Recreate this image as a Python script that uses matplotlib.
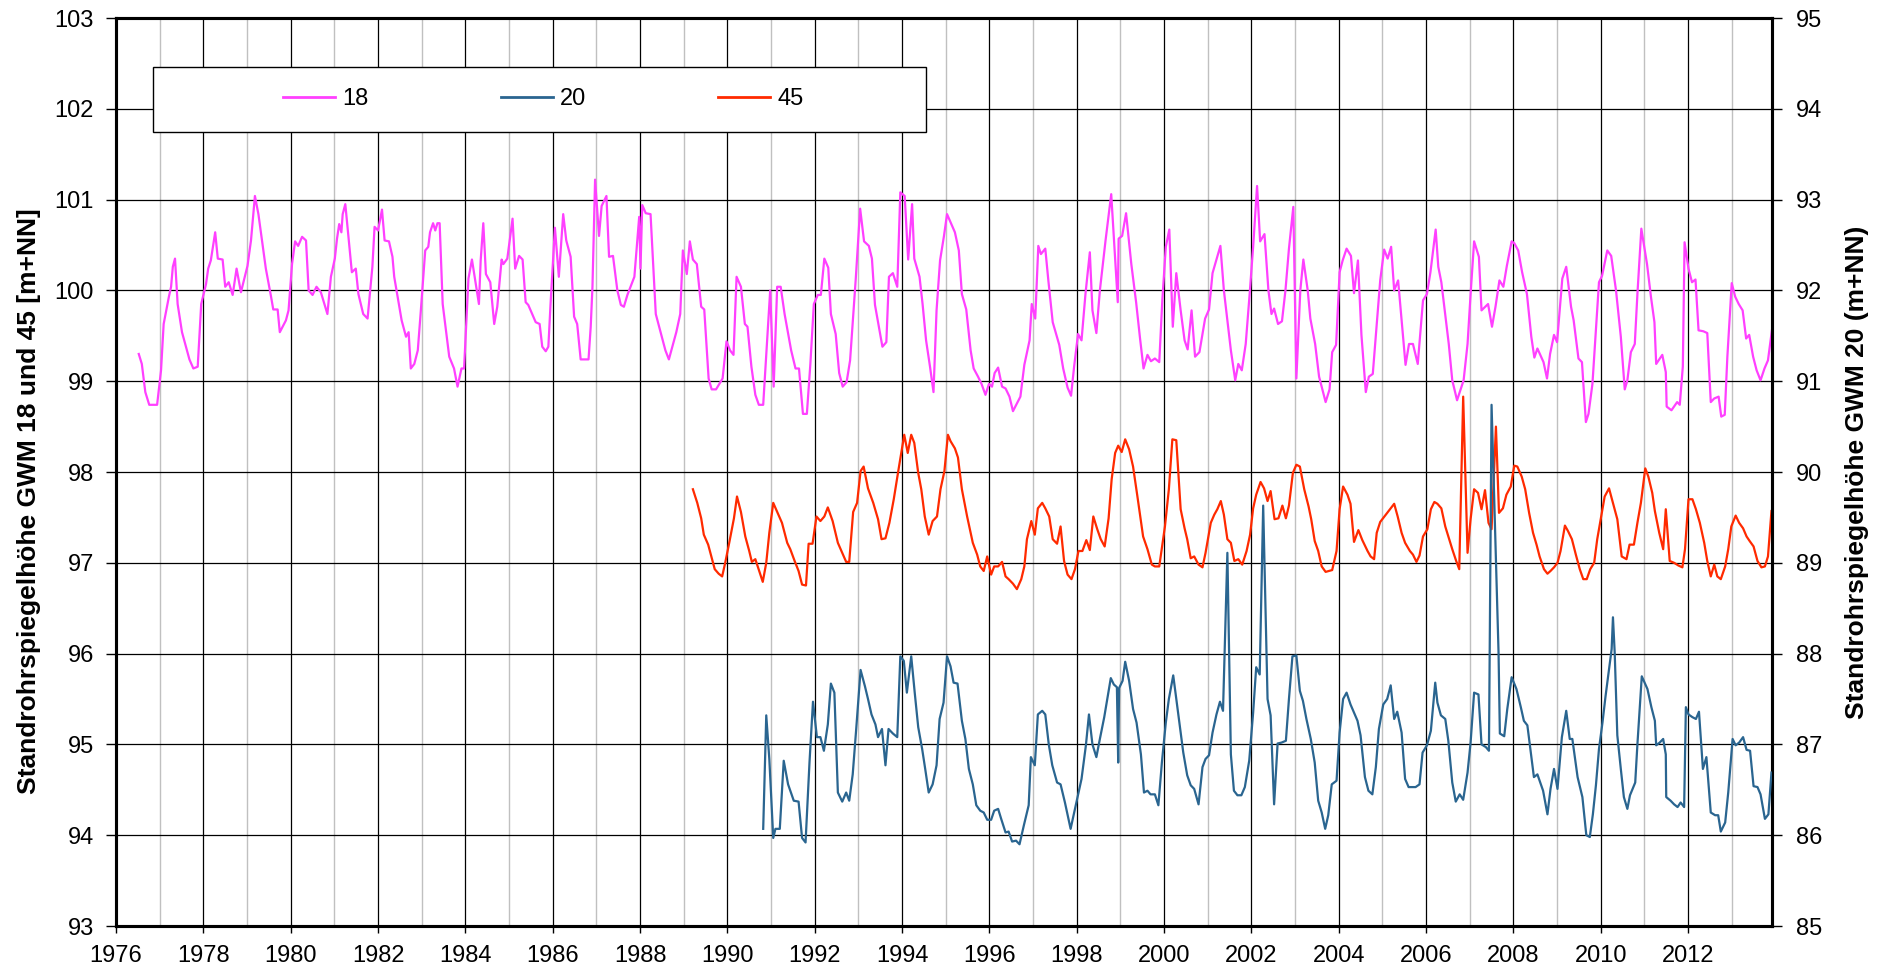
import numpy as np
import matplotlib
matplotlib.use("Agg")
import matplotlib.pyplot as plt
from matplotlib.lines import Line2D
from matplotlib.patches import Rectangle

plt.rcParams['font.family'] = ['Liberation Sans', 'DejaVu Sans']

# ================= data (decimal year, m+NN) =================
# GWM 18 (left axis)
gwm18_year = [
    1976.52, 1976.59, 1976.67, 1976.76, 1976.94, 1977.03, 1977.09, 1977.21, 1977.26, 1977.30,
    1977.35, 1977.41, 1977.51, 1977.68, 1977.77, 1977.87, 1977.95, 1978.06, 1978.11, 1978.17,
    1978.27, 1978.33, 1978.44, 1978.50, 1978.58, 1978.67, 1978.76, 1978.86, 1979.01, 1979.09,
    1979.18, 1979.26, 1979.43, 1979.55, 1979.60, 1979.70, 1979.75, 1979.89, 1979.95, 1980.03,
    1980.10, 1980.17, 1980.26, 1980.35, 1980.41, 1980.50, 1980.59, 1980.69, 1980.84, 1980.92,
    1981.01, 1981.06, 1981.11, 1981.16, 1981.19, 1981.25, 1981.32, 1981.40, 1981.49, 1981.55,
    1981.66, 1981.76, 1981.87, 1981.92, 1982.00, 1982.09, 1982.15, 1982.25, 1982.33, 1982.37,
    1982.47, 1982.54, 1982.64, 1982.70, 1982.75, 1982.83, 1982.91, 1982.98, 1983.08, 1983.15,
    1983.19, 1983.26, 1983.31, 1983.36, 1983.41, 1983.48, 1983.63, 1983.74, 1983.82, 1983.91,
    1983.97, 1984.07, 1984.15, 1984.31, 1984.35, 1984.41, 1984.47, 1984.57, 1984.66, 1984.73,
    1984.83, 1984.87, 1984.96, 1985.08, 1985.14, 1985.23, 1985.31, 1985.38, 1985.44, 1985.61,
    1985.70, 1985.76, 1985.84, 1985.90, 1985.95, 1986.05, 1986.14, 1986.24, 1986.31, 1986.41,
    1986.49, 1986.56, 1986.64, 1986.82, 1986.87, 1986.91, 1986.97, 1987.06, 1987.12, 1987.23,
    1987.29, 1987.38, 1987.48, 1987.56, 1987.63, 1987.71, 1987.87, 1987.98, 1988.01, 1988.05,
    1988.13, 1988.24, 1988.36, 1988.58, 1988.66, 1988.83, 1988.92, 1988.98, 1989.07, 1989.14,
    1989.21, 1989.30, 1989.40, 1989.47, 1989.57, 1989.64, 1989.74, 1989.89, 1989.98, 1990.06,
    1990.14, 1990.21, 1990.31, 1990.40, 1990.46, 1990.55, 1990.64, 1990.72, 1990.82, 1990.98,
    1991.06, 1991.14, 1991.22, 1991.31, 1991.46, 1991.56, 1991.64, 1991.73, 1991.82, 1991.90,
    1991.98, 1992.07, 1992.14, 1992.22, 1992.31, 1992.37, 1992.48, 1992.56, 1992.64, 1992.73,
    1992.81, 1992.94, 1993.04, 1993.13, 1993.24, 1993.31, 1993.38, 1993.47, 1993.55, 1993.64,
    1993.70, 1993.79, 1993.89, 1993.96, 1994.06, 1994.14, 1994.23, 1994.28, 1994.40, 1994.47,
    1994.55, 1994.64, 1994.72, 1994.79, 1994.87, 1994.96, 1995.03, 1995.21, 1995.30, 1995.37,
    1995.47, 1995.57, 1995.64, 1995.74, 1995.82, 1995.91, 1995.99, 1996.06, 1996.12, 1996.20,
    1996.29, 1996.37, 1996.46, 1996.54, 1996.71, 1996.80, 1996.92, 1996.97, 1997.05, 1997.12,
    1997.18, 1997.28, 1997.35, 1997.45, 1997.60, 1997.69, 1997.79, 1997.87, 1997.94, 1998.03,
    1998.11, 1998.20, 1998.30, 1998.36, 1998.45, 1998.53, 1998.66, 1998.79, 1998.94, 1998.96,
    1999.04, 1999.13, 1999.25, 1999.36, 1999.45, 1999.53, 1999.62, 1999.70, 1999.79, 1999.89,
    1999.96, 2000.04, 2000.12, 2000.20, 2000.28, 2000.38, 2000.47, 2000.54, 2000.63, 2000.71,
    2000.81, 2000.94, 2001.03, 2001.11, 2001.29, 2001.37, 2001.53, 2001.63, 2001.70, 2001.78,
    2001.87, 2001.96, 2002.04, 2002.13, 2002.20, 2002.30, 2002.39, 2002.46, 2002.52, 2002.61,
    2002.70, 2002.78, 2002.86, 2002.96, 2003.03, 2003.12, 2003.19, 2003.29, 2003.35, 2003.46,
    2003.55, 2003.70, 2003.79, 2003.85, 2003.94, 2004.02, 2004.09, 2004.18, 2004.28, 2004.35,
    2004.44, 2004.52, 2004.62, 2004.69, 2004.78, 2004.87, 2004.95, 2005.04, 2005.12, 2005.20,
    2005.27, 2005.36, 2005.53, 2005.61, 2005.70, 2005.81, 2005.93, 2006.02, 2006.10, 2006.22,
    2006.28, 2006.35, 2006.52, 2006.60, 2006.71, 2006.86, 2006.95, 2007.02, 2007.10, 2007.21,
    2007.27, 2007.42, 2007.51, 2007.59, 2007.68, 2007.77, 2007.85, 2007.96, 2008.02, 2008.11,
    2008.20, 2008.31, 2008.41, 2008.48, 2008.55, 2008.69, 2008.77, 2008.84, 2008.93, 2009.00,
    2009.12, 2009.21, 2009.32, 2009.38, 2009.49, 2009.57, 2009.66, 2009.72, 2009.81, 2009.96,
    2010.03, 2010.15, 2010.24, 2010.35, 2010.46, 2010.55, 2010.61, 2010.69, 2010.78, 2010.84,
    2010.93, 2011.06, 2011.15, 2011.23, 2011.27, 2011.41, 2011.49, 2011.51, 2011.62, 2011.75,
    2011.81, 2011.88, 2011.92, 2012.01, 2012.09, 2012.17, 2012.24, 2012.35, 2012.44, 2012.52,
    2012.60, 2012.70, 2012.76, 2012.84, 2012.90, 2013.00, 2013.08, 2013.16, 2013.25, 2013.33,
    2013.40, 2013.49, 2013.57, 2013.66, 2013.75, 2013.83, 2013.92,
]
gwm18_val = [
    99.30, 99.19, 98.88, 98.74, 98.74, 99.12, 99.63, 99.93, 100.04, 100.26,
    100.35, 99.85, 99.54, 99.24, 99.14, 99.16, 99.85, 100.07, 100.24, 100.33,
    100.64, 100.35, 100.34, 100.04, 100.09, 99.95, 100.24, 99.98, 100.27, 100.55,
    101.04, 100.84, 100.24, 99.93, 99.79, 99.79, 99.54, 99.67, 99.78, 100.29,
    100.54, 100.49, 100.59, 100.55, 100.00, 99.95, 100.04, 99.98, 99.74, 100.15,
    100.35, 100.57, 100.73, 100.64, 100.84, 100.95, 100.60, 100.20, 100.24, 99.96,
    99.74, 99.69, 100.26, 100.70, 100.66, 100.89, 100.55, 100.54, 100.37, 100.15,
    99.87, 99.67, 99.49, 99.54, 99.14, 99.19, 99.34, 99.78, 100.44, 100.48,
    100.64, 100.74, 100.66, 100.74, 100.74, 99.85, 99.27, 99.14, 98.94, 99.14,
    99.14, 100.13, 100.34, 99.85, 100.33, 100.74, 100.18, 100.09, 99.63, 99.82,
    100.34, 100.29, 100.35, 100.79, 100.24, 100.38, 100.34, 99.87, 99.84, 99.65,
    99.63, 99.38, 99.33, 99.38, 99.85, 100.69, 100.15, 100.84, 100.55, 100.37,
    99.71, 99.63, 99.24, 99.24, 99.60, 100.04, 101.22, 100.60, 100.93, 101.04,
    100.37, 100.38, 100.00, 99.84, 99.82, 99.95, 100.15, 100.81, 100.24, 100.94,
    100.85, 100.84, 99.74, 99.34, 99.24, 99.54, 99.74, 100.44, 100.18, 100.54,
    100.34, 100.29, 99.82, 99.79, 99.03, 98.91, 98.91, 99.03, 99.44, 99.34,
    99.29, 100.15, 100.04, 99.63, 99.60, 99.16, 98.85, 98.74, 98.74, 100.00,
    98.94, 100.04, 100.04, 99.74, 99.34, 99.14, 99.14, 98.64, 98.64, 99.19,
    99.85, 99.95, 99.95, 100.35, 100.25, 99.74, 99.52, 99.09, 98.94, 98.99,
    99.23, 100.13, 100.90, 100.54, 100.49, 100.35, 99.84, 99.60, 99.38, 99.43,
    100.15, 100.19, 100.04, 101.08, 101.04, 100.34, 100.95, 100.35, 100.15, 99.85,
    99.45, 99.16, 98.88, 99.78, 100.33, 100.60, 100.84, 100.64, 100.44, 99.96,
    99.79, 99.34, 99.14, 99.05, 98.97, 98.85, 98.97, 98.94, 99.09, 99.15,
    98.94, 98.92, 98.83, 98.67, 98.83, 99.18, 99.45, 99.85, 99.69, 100.49,
    100.40, 100.46, 100.11, 99.65, 99.40, 99.14, 98.93, 98.84, 99.16, 99.52,
    99.45, 99.96, 100.42, 99.78, 99.53, 100.00, 100.55, 101.06, 99.87, 100.57,
    100.60, 100.85, 100.29, 99.87, 99.47, 99.14, 99.29, 99.22, 99.25, 99.21,
    99.89, 100.48, 100.67, 99.60, 100.19, 99.78, 99.45, 99.35, 99.78, 99.27,
    99.32, 99.69, 99.79, 100.19, 100.49, 100.00, 99.34, 99.01, 99.19, 99.12,
    99.41, 99.96, 100.48, 101.15, 100.54, 100.62, 100.00, 99.74, 99.80, 99.63,
    99.66, 100.00, 100.46, 100.92, 99.03, 100.00, 100.34, 100.00, 99.69, 99.41,
    99.05, 98.77, 98.91, 99.32, 99.40, 100.20, 100.33, 100.46, 100.38, 99.97,
    100.33, 99.51, 98.88, 99.05, 99.08, 99.63, 100.11, 100.45, 100.35, 100.48,
    100.00, 100.11, 99.18, 99.41, 99.41, 99.19, 99.89, 99.96, 100.20, 100.67,
    100.26, 100.09, 99.41, 99.01, 98.79, 99.01, 99.41, 99.96, 100.54, 100.37,
    99.78, 99.85, 99.60, 99.82, 100.11, 100.04, 100.27, 100.54, 100.52, 100.44,
    100.20, 99.96, 99.49, 99.26, 99.36, 99.21, 99.03, 99.30, 99.51, 99.43,
    100.13, 100.26, 99.82, 99.67, 99.25, 99.21, 98.55, 98.64, 98.97, 100.09,
    100.16, 100.44, 100.38, 100.00, 99.49, 98.91, 99.01, 99.32, 99.41, 99.96,
    100.68, 100.29, 99.93, 99.65, 99.19, 99.29, 99.10, 98.72, 98.68, 98.77,
    98.74, 99.16, 100.53, 100.24, 100.09, 100.12, 99.56, 99.55, 99.53, 98.77,
    98.81, 98.83, 98.61, 98.63, 99.27, 100.08, 99.93, 99.85, 99.78, 99.47,
    99.51, 99.27, 99.12, 99.01, 99.14, 99.23, 99.56,
]

# GWM 45 (left axis)
gwm45_year = [
    1989.21, 1989.31, 1989.40, 1989.46, 1989.56, 1989.71, 1989.80, 1989.88, 1989.95, 1990.05,
    1990.15, 1990.22, 1990.31, 1990.41, 1990.50, 1990.56, 1990.64, 1990.81, 1990.89, 1990.96,
    1991.05, 1991.15, 1991.25, 1991.37, 1991.44, 1991.54, 1991.63, 1991.71, 1991.80, 1991.86,
    1991.95, 1992.04, 1992.13, 1992.22, 1992.30, 1992.41, 1992.53, 1992.63, 1992.72, 1992.79,
    1992.88, 1992.97, 1993.05, 1993.12, 1993.22, 1993.34, 1993.45, 1993.53, 1993.62, 1993.71,
    1993.81, 1993.92, 1994.05, 1994.13, 1994.21, 1994.28, 1994.37, 1994.44, 1994.52, 1994.61,
    1994.70, 1994.80, 1994.88, 1994.97, 1995.05, 1995.11, 1995.21, 1995.28, 1995.37, 1995.49,
    1995.62, 1995.72, 1995.79, 1995.87, 1995.95, 1996.04, 1996.11, 1996.20, 1996.29, 1996.37,
    1996.44, 1996.54, 1996.63, 1996.73, 1996.80, 1996.86, 1996.96, 1997.04, 1997.11, 1997.21,
    1997.28, 1997.37, 1997.45, 1997.55, 1997.63, 1997.71, 1997.79, 1997.88, 1997.96, 1998.04,
    1998.13, 1998.22, 1998.30, 1998.38, 1998.47, 1998.55, 1998.64, 1998.73, 1998.80, 1998.88,
    1998.95, 1999.03, 1999.11, 1999.20, 1999.29, 1999.39, 1999.52, 1999.62, 1999.72, 1999.79,
    1999.89, 2000.02, 2000.11, 2000.19, 2000.28, 2000.38, 2000.47, 2000.53, 2000.61, 2000.69,
    2000.79, 2000.88, 2000.95, 2001.07, 2001.15, 2001.22, 2001.30, 2001.37, 2001.45, 2001.53,
    2001.61, 2001.70, 2001.79, 2001.89, 2001.97, 2002.04, 2002.11, 2002.21, 2002.29, 2002.37,
    2002.44, 2002.53, 2002.62, 2002.71, 2002.79, 2002.86, 2002.95, 2003.03, 2003.11, 2003.21,
    2003.31, 2003.37, 2003.45, 2003.53, 2003.61, 2003.70, 2003.85, 2003.95, 2004.02, 2004.10,
    2004.20, 2004.27, 2004.35, 2004.45, 2004.54, 2004.66, 2004.73, 2004.81, 2004.87, 2004.95,
    2005.27, 2005.35, 2005.44, 2005.52, 2005.63, 2005.70, 2005.78, 2005.85, 2005.93, 2006.03,
    2006.11, 2006.19, 2006.26, 2006.35, 2006.44, 2006.53, 2006.60, 2006.69, 2006.76, 2006.85,
    2006.95, 2007.02, 2007.10, 2007.19, 2007.27, 2007.35, 2007.43, 2007.50, 2007.60, 2007.67,
    2007.76, 2007.84, 2007.94, 2008.02, 2008.09, 2008.19, 2008.27, 2008.36, 2008.45, 2008.53,
    2008.60, 2008.70, 2008.78, 2008.85, 2008.93, 2009.01, 2009.08, 2009.18, 2009.25, 2009.34,
    2009.43, 2009.52, 2009.60, 2009.68, 2009.76, 2009.85, 2009.92, 2010.00, 2010.09, 2010.19,
    2010.28, 2010.38, 2010.48, 2010.59, 2010.66, 2010.76, 2010.84, 2010.92, 2011.02, 2011.09,
    2011.18, 2011.24, 2011.34, 2011.43, 2011.49, 2011.58, 2011.68, 2011.78, 2011.87, 2011.93,
    2012.01, 2012.10, 2012.18, 2012.27, 2012.37, 2012.44, 2012.52, 2012.60, 2012.67, 2012.75,
    2012.85, 2012.92, 2012.99, 2013.09, 2013.17, 2013.26, 2013.34, 2013.41, 2013.50, 2013.59,
    2013.68, 2013.76, 2013.83, 2013.91,
]
gwm45_val = [
    97.81, 97.66, 97.49, 97.31, 97.20, 96.93, 96.88, 96.85, 97.00, 97.24,
    97.49, 97.73, 97.56, 97.29, 97.13, 97.01, 97.04, 96.79, 97.00, 97.33,
    97.66, 97.55, 97.44, 97.22, 97.15, 97.02, 96.91, 96.76, 96.75, 97.21,
    97.21, 97.51, 97.46, 97.51, 97.61, 97.46, 97.22, 97.11, 97.01, 97.01,
    97.56, 97.66, 98.01, 98.06, 97.82, 97.66, 97.48, 97.26, 97.27, 97.44,
    97.70, 98.03, 98.41, 98.21, 98.41, 98.32, 97.99, 97.81, 97.51, 97.31,
    97.46, 97.51, 97.81, 98.01, 98.41, 98.34, 98.26, 98.16, 97.81, 97.51,
    97.22, 97.09, 96.96, 96.91, 97.07, 96.87, 96.96, 96.96, 97.01, 96.85,
    96.82, 96.77, 96.71, 96.82, 96.96, 97.26, 97.46, 97.31, 97.60, 97.66,
    97.60, 97.51, 97.26, 97.21, 97.40, 97.02, 96.87, 96.82, 96.93, 97.13,
    97.13, 97.25, 97.14, 97.51, 97.37, 97.26, 97.18, 97.49, 97.92, 98.21,
    98.29, 98.22, 98.36, 98.25, 98.06, 97.73, 97.29, 97.15, 96.98, 96.96,
    96.96, 97.40, 97.81, 98.36, 98.35, 97.59, 97.38, 97.26, 97.05, 97.07,
    96.98, 96.95, 97.11, 97.44, 97.53, 97.59, 97.68, 97.53, 97.26, 97.22,
    97.02, 97.04, 96.98, 97.13, 97.31, 97.60, 97.75, 97.89, 97.82, 97.68,
    97.79, 97.48, 97.49, 97.63, 97.49, 97.63, 97.99, 98.08, 98.06, 97.81,
    97.62, 97.48, 97.24, 97.13, 96.96, 96.90, 96.92, 97.13, 97.59, 97.84,
    97.75, 97.65, 97.23, 97.36, 97.25, 97.13, 97.07, 97.04, 97.33, 97.45,
    97.65, 97.51, 97.33, 97.22, 97.13, 97.09, 97.01, 97.08, 97.29, 97.37,
    97.59, 97.67, 97.65, 97.60, 97.40, 97.26, 97.15, 97.02, 96.93, 98.83,
    97.11, 97.48, 97.81, 97.77, 97.59, 97.80, 97.44, 97.37, 98.50, 97.55,
    97.60, 97.75, 97.84, 98.07, 98.06, 97.95, 97.81, 97.55, 97.33, 97.20,
    97.07, 96.93, 96.88, 96.91, 96.95, 97.00, 97.13, 97.41, 97.35, 97.26,
    97.09, 96.93, 96.82, 96.82, 96.93, 97.00, 97.26, 97.48, 97.73, 97.82,
    97.66, 97.48, 97.07, 97.04, 97.20, 97.20, 97.44, 97.66, 98.04, 97.95,
    97.77, 97.57, 97.33, 97.15, 97.59, 97.02, 97.00, 96.97, 96.95, 97.15,
    97.70, 97.70, 97.59, 97.44, 97.22, 97.02, 96.85, 96.98, 96.85, 96.82,
    96.96, 97.15, 97.40, 97.52, 97.44, 97.38, 97.29, 97.24, 97.18, 97.02,
    96.95, 96.96, 97.07, 97.57,
]

# GWM 20 (right axis)
gwm20_year = [
    1990.82, 1990.89, 1990.96, 1991.05, 1991.10, 1991.20, 1991.29, 1991.39, 1991.52, 1991.63,
    1991.71, 1991.79, 1991.88, 1991.96, 1992.05, 1992.13, 1992.21, 1992.30, 1992.37, 1992.45,
    1992.53, 1992.63, 1992.72, 1992.79, 1992.87, 1992.95, 1993.05, 1993.15, 1993.22, 1993.30,
    1993.39, 1993.45, 1993.54, 1993.62, 1993.69, 1993.79, 1993.89, 1993.96, 1994.04, 1994.11,
    1994.21, 1994.29, 1994.37, 1994.46, 1994.53, 1994.61, 1994.70, 1994.79, 1994.86, 1994.95,
    1995.03, 1995.11, 1995.18, 1995.27, 1995.37, 1995.45, 1995.53, 1995.62, 1995.70, 1995.79,
    1995.87, 1995.95, 1996.04, 1996.11, 1996.20, 1996.27, 1996.37, 1996.44, 1996.52, 1996.61,
    1996.69, 1996.79, 1996.90, 1996.95, 1997.04, 1997.11, 1997.21, 1997.28, 1997.36, 1997.44,
    1997.55, 1997.63, 1997.73, 1997.86, 1997.96, 1998.04, 1998.11, 1998.21, 1998.28, 1998.36,
    1998.45, 1998.53, 1998.63, 1998.70, 1998.78, 1998.85, 1998.92, 1998.95, 1998.97, 1999.05,
    1999.11, 1999.20, 1999.29, 1999.37, 1999.47, 1999.54, 1999.62, 1999.69, 1999.79, 1999.87,
    1999.95, 2000.04, 2000.11, 2000.21, 2000.31, 2000.44, 2000.53, 2000.61, 2000.69, 2000.79,
    2000.88, 2000.95, 2001.03, 2001.11, 2001.20, 2001.28, 2001.35, 2001.45, 2001.53, 2001.60,
    2001.68, 2001.77, 2001.85, 2001.95, 2002.04, 2002.11, 2002.19, 2002.27, 2002.37, 2002.44,
    2002.52, 2002.60, 2002.69, 2002.79, 2002.86, 2002.94, 2003.03, 2003.11, 2003.18, 2003.26,
    2003.36, 2003.45, 2003.53, 2003.61, 2003.69, 2003.76, 2003.84, 2003.95, 2004.02, 2004.10,
    2004.18, 2004.27, 2004.35, 2004.43, 2004.50, 2004.60, 2004.68, 2004.77, 2004.85, 2004.92,
    2005.02, 2005.11, 2005.19, 2005.27, 2005.34, 2005.44, 2005.52, 2005.60, 2005.67, 2005.76,
    2005.85, 2005.92, 2006.02, 2006.11, 2006.21, 2006.26, 2006.34, 2006.44, 2006.51, 2006.60,
    2006.68, 2006.77, 2006.85, 2006.95, 2007.02, 2007.10, 2007.20, 2007.27, 2007.37, 2007.44,
    2007.50, 2007.58, 2007.66, 2007.69, 2007.79, 2007.86, 2007.96, 2008.07, 2008.17, 2008.24,
    2008.32, 2008.40, 2008.47, 2008.55, 2008.68, 2008.78, 2008.85, 2008.93, 2009.01, 2009.11,
    2009.21, 2009.29, 2009.35, 2009.47, 2009.58, 2009.67, 2009.75, 2009.82, 2009.89, 2009.96,
    2010.04, 2010.11, 2010.19, 2010.25, 2010.28, 2010.32, 2010.38, 2010.46, 2010.53, 2010.61,
    2010.67, 2010.79, 2010.84, 2010.94, 2011.07, 2011.16, 2011.24, 2011.27, 2011.35, 2011.43,
    2011.49, 2011.50, 2011.60, 2011.68, 2011.76, 2011.83, 2011.91, 2011.95, 2012.01, 2012.10,
    2012.18, 2012.25, 2012.34, 2012.42, 2012.52, 2012.62, 2012.69, 2012.75, 2012.85, 2012.92,
    2013.02, 2013.09, 2013.17, 2013.26, 2013.34, 2013.42, 2013.50, 2013.59, 2013.66, 2013.76,
    2013.84, 2013.91,
]
gwm20_val = [
    86.07, 87.32, 86.84, 85.97, 86.07, 86.07, 86.82, 86.56, 86.38, 86.37,
    85.97, 85.92, 86.80, 87.47, 87.08, 87.08, 86.93, 87.22, 87.67, 87.57,
    86.47, 86.37, 86.47, 86.38, 86.67, 87.17, 87.82, 87.64, 87.50, 87.33,
    87.22, 87.08, 87.17, 86.77, 87.17, 87.12, 87.08, 87.97, 87.92, 87.57,
    87.97, 87.57, 87.19, 86.95, 86.73, 86.47, 86.56, 86.77, 87.28, 87.46,
    87.97, 87.86, 87.68, 87.67, 87.26, 87.06, 86.73, 86.56, 86.33, 86.27,
    86.25, 86.17, 86.17, 86.27, 86.29, 86.18, 86.03, 86.04, 85.93, 85.94,
    85.90, 86.11, 86.33, 86.86, 86.77, 87.33, 87.37, 87.33, 87.00, 86.77,
    86.58, 86.56, 86.36, 86.07, 86.29, 86.47, 86.62, 86.99, 87.33, 87.00,
    86.86, 87.06, 87.30, 87.50, 87.73, 87.66, 87.63, 86.80, 87.62, 87.70,
    87.91, 87.70, 87.39, 87.24, 86.89, 86.47, 86.49, 86.45, 86.45, 86.33,
    86.80, 87.24, 87.50, 87.76, 87.39, 86.91, 86.66, 86.55, 86.51, 86.34,
    86.75, 86.84, 86.88, 87.13, 87.33, 87.47, 87.37, 89.11, 86.89, 86.49,
    86.44, 86.44, 86.53, 86.82, 87.35, 87.85, 87.77, 89.63, 87.50, 87.32,
    86.34, 87.01, 87.02, 87.04, 87.50, 87.97, 87.98, 87.59, 87.48, 87.28,
    87.06, 86.80, 86.38, 86.25, 86.07, 86.22, 86.56, 86.60, 87.13, 87.50,
    87.57, 87.44, 87.35, 87.26, 87.10, 86.64, 86.49, 86.45, 86.75, 87.17,
    87.44, 87.50, 87.65, 87.28, 87.36, 87.13, 86.62, 86.53, 86.53, 86.53,
    86.56, 86.91, 86.99, 87.15, 87.68, 87.46, 87.32, 87.28, 87.04, 86.58,
    86.37, 86.45, 86.39, 86.69, 87.02, 87.57, 87.55, 87.00, 86.97, 86.93,
    90.74, 89.37, 88.01, 87.12, 87.09, 87.39, 87.74, 87.61, 87.41, 87.26,
    87.21, 86.91, 86.64, 86.67, 86.49, 86.23, 86.51, 86.73, 86.51, 87.08,
    87.37, 87.06, 87.06, 86.64, 86.42, 86.00, 85.98, 86.23, 86.55, 86.95,
    87.24, 87.53, 87.83, 88.05, 88.40, 88.01, 87.10, 86.73, 86.42, 86.29,
    86.44, 86.58, 87.00, 87.75, 87.61, 87.41, 87.26, 86.99, 87.02, 87.06,
    86.89, 86.42, 86.38, 86.34, 86.31, 86.36, 86.31, 87.41, 87.33, 87.30,
    87.28, 87.36, 86.73, 86.86, 86.25, 86.22, 86.22, 86.04, 86.14, 86.47,
    87.06, 86.99, 87.02, 87.08, 86.94, 86.93, 86.54, 86.53, 86.45, 86.18,
    86.23, 86.69,
]

series_labels = ["18", "20", "45"]
year_ticks = list(range(1976, 2013, 2))

# ================= figure =================
fig = plt.figure(figsize=(18.81, 9.73), dpi=100)
ax = fig.add_axes([0.0617, 0.0483, 0.8803, 0.9332])
ax2 = ax.twinx()

c18, c20, c45 = "#FF40FF", "#2A6590", "#FF2A00"

ax.plot(gwm18_year, gwm18_val, color=c18, lw=1.6, zorder=3)
ax.plot(gwm45_year, gwm45_val, color=c45, lw=1.6, zorder=3)
ax2.plot(gwm20_year, gwm20_val, color=c20, lw=1.6, zorder=3)

ax.set_xlim(1976, 2013.92)
ax.set_ylim(93, 103)
ax2.set_ylim(85, 95)

# grid: black on even years and integers, grey on odd years
ax.set_xticks(year_ticks)
ax.set_xticks(range(1977, 2014, 2), minor=True)
ax.set_yticks(range(93, 104))
ax2.set_yticks(range(85, 96))
ax.grid(True, which="major", axis="both", color="black", lw=0.9)
ax.grid(True, which="minor", axis="x", color="#c0c0c0", lw=1.0)
ax.set_axisbelow(True)

ax.tick_params(axis="x", which="major", direction="out", length=5, width=1, labelsize=17, pad=9)
ax.tick_params(axis="x", which="minor", length=0)
ax.tick_params(axis="y", direction="out", length=7, width=1, labelsize=17, pad=9)
ax2.tick_params(axis="y", direction="out", length=7, width=1, labelsize=17, pad=10)

for a in (ax, ax2):
    for s in a.spines.values():
        s.set_linewidth(2.2)
        s.set_color("black")

fig.text(0.0154, 0.485, "Standrohrspiegelhöhe GWM 18 und 45 [m+NN]",
         rotation=90, ha="center", va="center", fontsize=19, fontweight="bold")
fig.text(0.987, 0.515, "Standrohrspiegelhöhe GWM 20 (m+NN)",
         rotation=90, ha="center", va="center", fontsize=19, fontweight="bold")

# legend box drawn by hand (wide, asymmetric padding as in the original)
ax2.add_patch(Rectangle((0.0223, 0.8744), 0.4668, 0.0716, transform=ax2.transAxes,
                        facecolor="white", edgecolor="black", lw=1.0, zorder=10))
handles = [Line2D([], [], color=c, lw=2.0) for c in (c18, c20, c45)]
leg = ax2.legend(handles, series_labels, ncol=3, loc="center",
                 bbox_to_anchor=(0.258, 0.9105), frameon=False, fontsize=17,
                 handlelength=2.2, handletextpad=0.3, columnspacing=5.6)
leg.set_zorder(11)

fig.savefig("out.png", dpi=100)
